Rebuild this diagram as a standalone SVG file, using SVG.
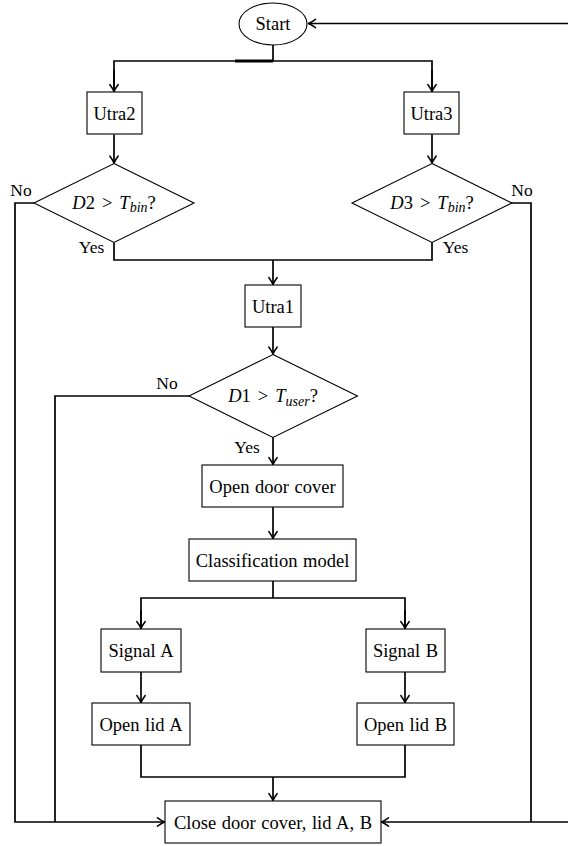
<svg xmlns="http://www.w3.org/2000/svg" width="568" height="846" viewBox="0 0 568 846">
<style>
.box{fill:#fff;stroke:#000;stroke-width:1.1}
.t{font-family:"Liberation Serif","Times New Roman",serif;font-size:18.5px;fill:#000;text-anchor:middle;word-spacing:1px}
.lbl{font-family:"Liberation Serif","Times New Roman",serif;font-size:17.5px;fill:#000;text-anchor:middle}
.i{font-style:italic}
.c{fill:none;stroke:#000;stroke-width:1.7;stroke-linejoin:miter}
.a{marker-end:url(#arr)}
</style>
<defs>
<marker id="arr" markerUnits="userSpaceOnUse" viewBox="-9 -6 11 12" refX="0" refY="0" markerWidth="11" markerHeight="12" orient="auto" overflow="visible">
<path d="M -7 -4.2 Q -2.5 -1 0 0 Q -2.5 1 -7 4.2" fill="none" stroke="#000" stroke-width="1.5" stroke-linecap="round" stroke-linejoin="round"/>
</marker>
</defs>
<g id="connectors">
<path class="c a" d="M 568 23.5 L 308.5 23.5"/>
<path class="c" d="M 273 45 L 273 61"/>
<path class="c" d="M 114 91 L 114 61 L 432 61 L 432 91"/>
<path class="c a" d="M 114 70 L 114 91.5"/>
<path class="c a" d="M 432 70 L 432 91.5"/>
<path d="M 235 61 L 273 61" stroke="#000" stroke-width="2.8"/>
<path class="c a" d="M 114 134.5 L 114 163"/>
<path class="c a" d="M 432 134.5 L 432 163"/>
<path class="c" d="M 114 242.5 L 114 260 L 432 260 L 432 242.5"/>
<path class="c a" d="M 273 260 L 273 284.5"/>
<path class="c a" d="M 273 327 L 273 354"/>
<path class="c a" d="M 273 437.5 L 273 464.5"/>
<path class="c a" d="M 273 507 L 273 538.5"/>
<path class="c" d="M 273 581 L 273 598"/>
<path class="c" d="M 141 628 L 141 598 L 405 598 L 405 628"/>
<path class="c a" d="M 141 610 L 141 628.5"/>
<path class="c a" d="M 405 610 L 405 628.5"/>
<path class="c a" d="M 141 672 L 141 702.5"/>
<path class="c a" d="M 405 672 L 405 702.5"/>
<path class="c" d="M 141 745 L 141 777 L 405 777 L 405 745"/>
<path class="c a" d="M 273 777 L 273 800.5"/>
<path class="c a" d="M 34 203 L 15 203 L 15 822 L 164.5 822"/>
<path class="c" d="M 189 396 L 55 396 L 55 822"/>
<path class="c" d="M 511 203 L 531 203 L 531 822"/>
<path class="c a" d="M 568 822 L 381.5 822"/>
</g>
<g id="start">
<ellipse cx="273" cy="24" rx="34" ry="21" class="box"/>
<text class="t" x="273" y="30">Start</text>
</g>
<g id="utra2">
<rect x="87" y="92" width="55" height="42" class="box"/>
<text class="t" x="114.5" y="120">Utra2</text>
</g>
<g id="utra3">
<rect x="404" y="92" width="55" height="42" class="box"/>
<text class="t" x="431.5" y="120">Utra3</text>
</g>
<g id="d2">
<polygon points="114,163.5 194,203 114,242.5 34,203" class="box"/>
<text class="t" x="114" y="208.5"><tspan class="i">D</tspan>2<tspan dx="7">&gt;</tspan><tspan class="i" dx="7">T</tspan><tspan class="i" font-size="14" dy="3.5">bin</tspan><tspan dy="-3.5">?</tspan></text>
</g>
<g id="d3">
<polygon points="432,163.5 512,203 432,242.5 352,203" class="box"/>
<text class="t" x="432" y="208.5"><tspan class="i">D</tspan>3<tspan dx="7">&gt;</tspan><tspan class="i" dx="7">T</tspan><tspan class="i" font-size="14" dy="3.5">bin</tspan><tspan dy="-3.5">?</tspan></text>
</g>
<g id="utra1">
<rect x="245" y="285" width="56" height="42" class="box"/>
<text class="t" x="273" y="312.5">Utra1</text>
</g>
<g id="d1">
<polygon points="273,354.5 357.5,396 273,437.5 189,396" class="box"/>
<text class="t" x="273" y="402"><tspan class="i">D</tspan>1<tspan dx="7">&gt;</tspan><tspan class="i" dx="7">T</tspan><tspan class="i" font-size="14" dy="3.5">user</tspan><tspan dy="-3.5">?</tspan></text>
</g>
<g id="open-door">
<rect x="202" y="465" width="141" height="42" class="box"/>
<text class="t" x="272.5" y="492.5">Open door cover</text>
</g>
<g id="classification">
<rect x="189" y="539" width="167" height="42" class="box"/>
<text class="t" x="272.5" y="566.5">Classification model</text>
</g>
<g id="signal-a">
<rect x="101" y="629" width="80" height="43" class="box"/>
<text class="t" x="141" y="656.5">Signal A</text>
</g>
<g id="signal-b">
<rect x="366" y="629" width="79" height="43" class="box"/>
<text class="t" x="405.5" y="656.5">Signal B</text>
</g>
<g id="open-lid-a">
<rect x="92" y="703" width="98" height="42" class="box"/>
<text class="t" x="141" y="730.5">Open lid A</text>
</g>
<g id="open-lid-b">
<rect x="357" y="703" width="97" height="42" class="box"/>
<text class="t" x="405.5" y="730.5">Open lid B</text>
</g>
<g id="close">
<rect x="165" y="801" width="216" height="42" class="box"/>
<text class="t" x="273" y="828.5">Close door cover, lid A, B</text>
</g>
<g id="labels">
<text class="lbl" x="21" y="196">No</text>
<text class="lbl" x="522" y="196">No</text>
<text class="lbl" x="91.5" y="253">Yes</text>
<text class="lbl" x="455.5" y="253">Yes</text>
<text class="lbl" x="167" y="388.5">No</text>
<text class="lbl" x="247" y="452.5">Yes</text>
</g>
</svg>
